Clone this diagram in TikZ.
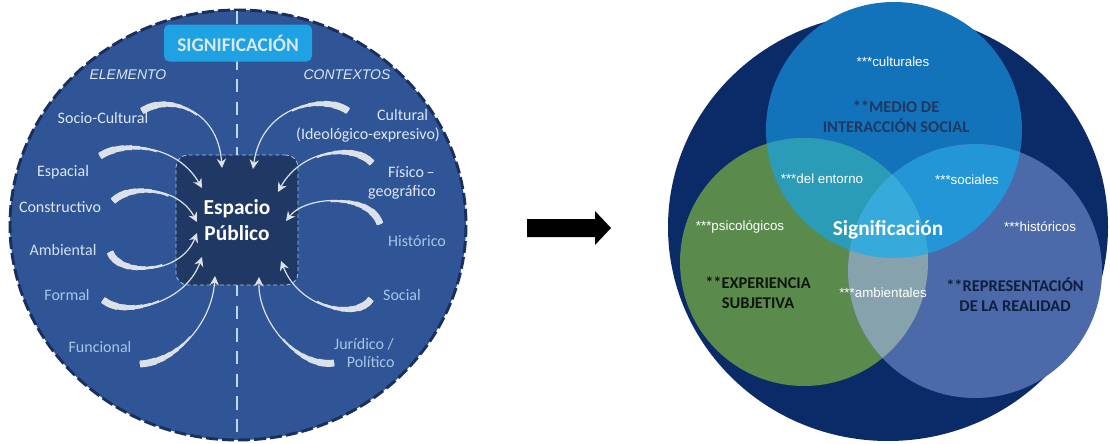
\documentclass[tikz,border=0pt]{standalone}
\usepackage{fontspec}
\setmainfont{Carlito}
\newfontfamily\arialfont{Liberation Sans}
\usetikzlibrary{arrows.meta}
\definecolor{ringblue}{HTML}{2F5597}
\definecolor{ringedge}{HTML}{1A2F5E}
\definecolor{corenavy}{HTML}{1F3864}
\definecolor{signcyan}{HTML}{1FA2E4}
\definecolor{labellight}{HTML}{DDE7F4}
\definecolor{labeldim}{HTML}{A8C6E6}
\definecolor{swooshgrey}{HTML}{DCE1E9}
\definecolor{dashblue}{HTML}{BDD7EE}
\definecolor{vennnavy}{HTML}{0B2A68}
\definecolor{venntop}{HTML}{1272BA}
\definecolor{vennleft}{HTML}{5A8A4C}
\definecolor{vennright}{HTML}{4C6AAA}
\definecolor{venntl}{HTML}{2A9CB8}
\definecolor{venntr}{HTML}{2396D8}
\definecolor{vennlr}{HTML}{86A3AD}
\definecolor{vennall}{HTML}{36AADB}
\definecolor{titledark}{HTML}{0E1E3C}
\tikzset{
    ctxlabel/.style = {
        font=\fontsize{12}{14}\selectfont,
        align=center,
        text=labellight,
        inner sep=0pt
    },
    ctxdim/.style = {
        ctxlabel,
        text=labeldim
    },
    sidelabel/.style = {
        font=\arialfont\itshape\fontsize{10.5}{12}\selectfont,
        text=labellight,
        inner sep=0pt
    },
    corebox/.style = {
        rectangle,
        rounded corners=9pt,
        fill=corenavy,
        draw=labeldim,
        dash pattern=on 3pt off 2pt,
        line width=0.6pt,
        minimum width=91.5pt,
        minimum height=97.5pt,
        align=center,
        text=white,
        font=\bfseries\fontsize{16}{20}\selectfont
    },
    signbox/.style = {
        rectangle,
        rounded corners=4pt,
        fill=signcyan,
        minimum width=111pt,
        minimum height=27.75pt,
        text=labellight,
        font=\bfseries\fontsize{14.5}{16}\selectfont
    },
    swoosh/.style = {
        draw=swooshgrey,
        line width=0.9pt,
        -{Stealth[length=7pt,width=7pt]},
        preaction={draw=swooshgrey, arrows=-, line width=5.2pt, dash pattern=on 12pt off 600pt},
        preaction={draw=swooshgrey, arrows=-, line width=4.4pt, dash pattern=on 19pt off 600pt},
        preaction={draw=swooshgrey, arrows=-, line width=3.6pt, dash pattern=on 25pt off 600pt},
        preaction={draw=swooshgrey, arrows=-, line width=2.8pt, dash pattern=on 31pt off 600pt},
        preaction={draw=swooshgrey, arrows=-, line width=2pt, dash pattern=on 37pt off 600pt},
        preaction={draw=swooshgrey, arrows=-, line width=1.4pt, dash pattern=on 44pt off 600pt}
    },
    venntext/.style = {
        font=\arialfont\fontsize{10}{12}\selectfont,
        text=white,
        inner sep=0pt
    },
    venntitle/.style = {
        font=\bfseries\fontsize{12.3}{15}\selectfont,
        align=center,
        text=titledark,
        inner sep=0pt
    }
}
\begin{document}
\begin{tikzpicture}[x=0.75pt,y=-0.75pt]
    \useasboundingbox (0,0) rectangle (1110,443);
    \fill[white] (0,0) rectangle (1110,443);
    \draw[fill=ringblue, draw=ringedge, line width=2.2pt, dash pattern=on 9pt off 3pt]
        (238,225) ellipse [x radius=228, y radius=215];
    \coordinate (lineTop) at (237,11);
    \coordinate (lineBot) at (237,440);
    \draw[dashblue, line width=2.2pt, dash pattern=on 10pt off 7pt] (lineTop) -- (lineBot);
    \node[signbox] (sign) at (238,43) {SIGNIFICACIÓN};
    \node[sidelabel] (elem) at (128,75) {ELEMENTO};
    \node[sidelabel] (ctx) at (347,75) {CONTEXTOS};
    \node[corebox] (core) at (237,220) {Espacio\\Público};

    \node[ctxlabel] (soc) at (103,118) {Socio-Cultural};
    \node[ctxlabel] (esp) at (63,172) {Espacial};
    \node[ctxlabel] (cons) at (60,207) {Constructivo};
    \node[ctxlabel, text=labellight!80!labeldim] (amb) at (63,250) {Ambiental};
    \node[ctxdim] (form) at (67,295) {Formal};
    \node[ctxdim] (func) at (100,347) {Funcional};
    \node[ctxlabel] (cult) at (368,126) {\hspace*{52pt}Cultural\\(Ideológico-expresivo)};
    \node[ctxlabel] (fis) at (402,183) {\hspace*{14pt}Físico\,--\\geográfico};
    \node[ctxdim] (hist) at (417,241) {Histórico};
    \node[ctxdim] (soci) at (402,295) {Social};
    \node[ctxdim] (jur) at (364,353) {Jurídico /\\\hspace*{10pt}Político};

    \coordinate (socT) at (142,111);
    \coordinate (socH) at (222,168);
    \coordinate (espT) at (100,156);
    \coordinate (espH) at (202,188);
    \coordinate (consT) at (113,201);
    \coordinate (consH) at (197,222);
    \coordinate (ambT) at (110,252);
    \coordinate (ambH) at (197,233);
    \coordinate (formT) at (103,300);
    \coordinate (formH) at (202,257);
    \coordinate (funcT) at (140,364);
    \coordinate (funcH) at (215,276);
    \coordinate (cultT) at (348,111);
    \coordinate (cultH) at (253,169);
    \coordinate (fisT) at (372,163);
    \coordinate (fisH) at (278,192);
    \coordinate (histT) at (380,224);
    \coordinate (histH) at (286,221);
    \coordinate (sociT) at (371,299);
    \coordinate (sociH) at (281,261);
    \coordinate (jurT) at (334,363);
    \coordinate (jurH) at (259,277);
    \draw[swoosh] (socT) .. controls (168,94) and (218,108) .. (socH);
    \draw[swoosh] (espT) .. controls (122,141) and (176,143) .. (espH);
    \draw[swoosh] (consT) .. controls (130,184) and (178,186) .. (consH);
    \draw[swoosh] (ambT) .. controls (118,276) and (180,276) .. (ambH);
    \draw[swoosh] (formT) .. controls (125,318) and (185,304) .. (formH);
    \draw[swoosh] (funcT) .. controls (178,362) and (212,322) .. (funcH);
    \draw[swoosh] (cultT) .. controls (325,94) and (262,104) .. (cultH);
    \draw[swoosh] (fisT) .. controls (355,144) and (302,148) .. (fisH);
    \draw[swoosh] (histT) .. controls (370,193) and (306,195) .. (histH);
    \draw[swoosh] (sociT) .. controls (358,320) and (300,310) .. (sociH);
    \draw[swoosh] (jurT) .. controls (298,368) and (258,322) .. (jurH);

    \fill (527,219) -- (595,219) -- (595,211) -- (611,228) -- (595,245) -- (595,237) -- (527,237) -- cycle;

    \fill[vennnavy] (888,227) ellipse [x radius=220, y radius=214];
    \fill[venntop] (894,130) circle [radius=128];
    \fill[vennleft] (804,262) circle [radius=124];
    \fill[vennright] (975,271) circle [radius=127];
    \begin{scope}
        \clip (894,130) circle [radius=128];
        \fill[venntl] (804,262) circle [radius=124];
        \fill[venntr] (975,271) circle [radius=127];
    \end{scope}
    \begin{scope}
        \clip (804,262) circle [radius=124];
        \fill[vennlr] (975,271) circle [radius=127];
        \clip (975,271) circle [radius=127];
        \fill[vennall] (894,130) circle [radius=128];
    \end{scope}
    \node[venntext] (vcult) at (893,62) {***culturales};
    \node[venntitle, text=corenavy] (vmedio) at (896,117) {**MEDIO DE\\INTERACCIÓN SOCIAL};
    \node[venntext] (vent) at (822,179) {***del entorno};
    \node[venntext] (vsoc) at (967,180) {***sociales};
    \node[venntext] (vpsi) at (740,227) {***psicológicos};
    \node[venntext] (vhist) at (1040,227) {***históricos};
    \node[venntitle, text=white, font=\bfseries\fontsize{16}{18}\selectfont] (vsign) at (888,230) {Significación};
    \node[venntitle, text=black!85!vennleft] (vexp) at (758,293) {**EXPERIENCIA\\SUBJETIVA};
    \node[venntext] (vamb) at (883,293) {***ambientales};
    \node[venntitle] (vrep) at (1015,295) {**REPRESENTACIÓN\\DE LA REALIDAD};
\end{tikzpicture}
\end{document}
